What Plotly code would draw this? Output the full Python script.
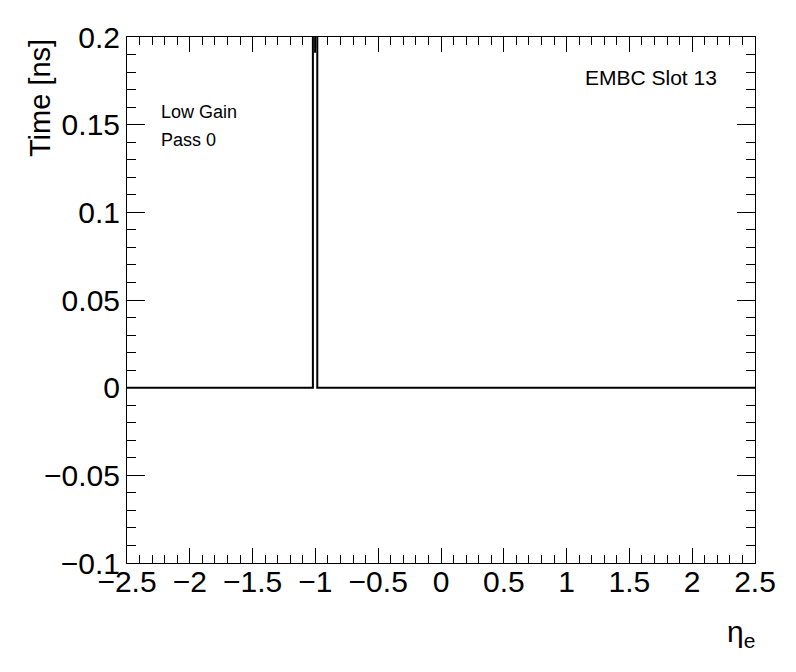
import plotly.graph_objects as go

# histogram: bin edges and contents (time in ns vs eta_e)
bin_edges = [-2.5, -1.02, -0.985, 2.5]
bin_values = [0.0, 0.30, 0.0]
spike_err = [0.109]

# step-line from bins
xs, ys = [], []
for i, v in enumerate(bin_values):
    xs += [bin_edges[i], bin_edges[i + 1]]
    ys += [v, v]
centers = [(bin_edges[i] + bin_edges[i + 1]) / 2 for i in range(len(bin_values))]

FONT = "Liberation Sans, Arial, Helvetica, sans-serif"

fig = go.Figure()
fig.add_trace(go.Scatter(x=xs, y=ys, mode="lines",
                         line=dict(color="black", width=2), showlegend=False))
fig.add_trace(go.Scatter(x=[centers[1]], y=[bin_values[1]], mode="markers",
                         marker=dict(size=1, color="black", opacity=0),
                         error_y=dict(type="data", array=spike_err, color="black",
                                      thickness=2, width=0),
                         showlegend=False))

axis_common = dict(showline=True, linecolor="black", linewidth=1, mirror="ticks",
                   ticks="inside", tickcolor="black", showgrid=False, zeroline=False,
                   tickfont=dict(family=FONT, size=30, color="black"))
fig.update_xaxes(range=[-2.5, 2.5], dtick=0.5, tick0=-2.5, ticklen=15,
                 ticklabelstandoff=-8,
                 minor=dict(ticks="inside", dtick=0.1, ticklen=8, tickcolor="black"),
                 **axis_common)
fig.update_yaxes(range=[-0.1, 0.2], dtick=0.05, tick0=0, ticklen=18,
                 minor=dict(ticks="inside", dtick=0.01, ticklen=9, tickcolor="black"),
                 **axis_common)

# page body has an 8px margin, so the figure is a bit smaller than the window
fig.update_layout(
    width=780, height=656, plot_bgcolor="white", paper_bgcolor="white",
    margin=dict(l=119, r=33, t=25, b=101),
    annotations=[
        dict(text="Time [ns]", xref="paper", yref="paper", x=-0.1385, y=1.0,
             showarrow=False, textangle=-90, xanchor="center", yanchor="top",
             font=dict(family=FONT, size=29, color="black")),
        dict(text="η<sub>e</sub>", xref="paper", yref="paper", x=1.003, y=-0.096,
             showarrow=False, xanchor="right", yanchor="top",
             font=dict(family=FONT, size=30, color="black")),
        dict(text="Low Gain", xref="paper", yref="paper", x=0.051, y=0.857,
             showarrow=False, xanchor="left", yanchor="middle",
             font=dict(family=FONT, size=18, color="black")),
        dict(text="Pass 0", xref="paper", yref="paper", x=0.051, y=0.804,
             showarrow=False, xanchor="left", yanchor="middle",
             font=dict(family=FONT, size=18, color="black")),
        dict(text="EMBC Slot 13", xref="paper", yref="paper", x=0.943,
             y=0.923, showarrow=False, xanchor="right", yanchor="middle",
             font=dict(family=FONT, size=21, color="black")),
    ],
)

fig.write_html("out.html")
